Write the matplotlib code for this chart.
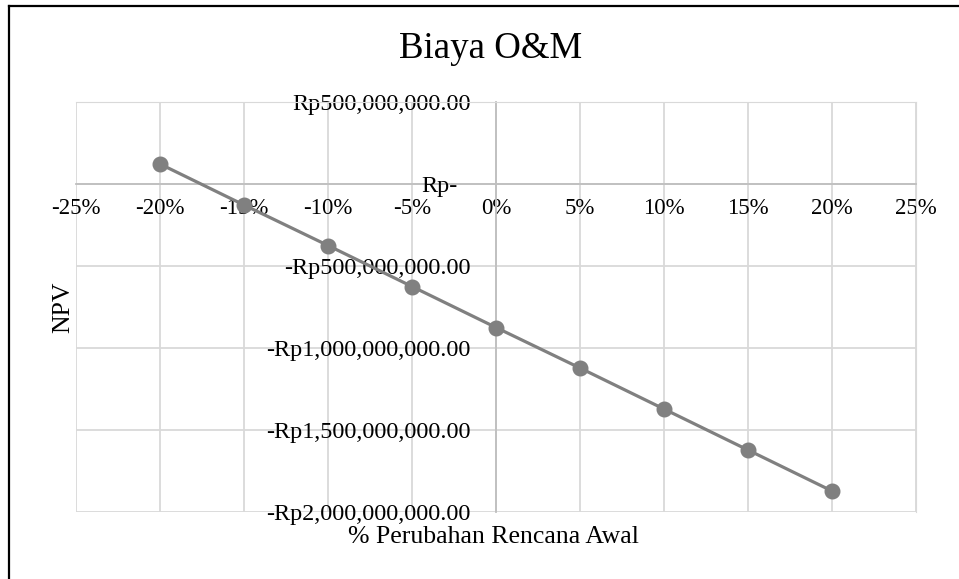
import numpy as np
import matplotlib
matplotlib.use('Agg')
import matplotlib.pyplot as plt
from matplotlib.lines import Line2D

# data
perubahan = [-0.20, -0.15, -0.10, -0.05, 0.00, 0.05, 0.10, 0.15, 0.20]
npv = [122e6, -128e6, -375e6, -625e6, -875e6, -1122e6, -1372e6, -1622e6, -1872e6]
x_ticks = [-0.25, -0.20, -0.15, -0.10, -0.05, 0.0, 0.05, 0.10, 0.15, 0.20, 0.25]
x_labels = ['-25%', '-20%', '-15%', '-10%', '-5%', '0%', '5%', '10%', '15%', '20%', '25%']
y_ticks = [-2e9, -1.5e9, -1e9, -5e8, 0, 5e8]
y_labels = ['-Rp2,000,000,000.00', '-Rp1,500,000,000.00', '-Rp1,000,000,000.00',
            '-Rp500,000,000.00', 'Rp-', 'Rp500,000,000.00']

plt.rcParams['font.family'] = ['Liberation Serif', 'DejaVu Serif']

fig = plt.figure(figsize=(9.59, 5.79), dpi=100)
ax = fig.add_axes([76/959, 1-512/579, 840/959, 410/579])

ax.plot(perubahan, npv, color='#808080', lw=2.3, marker='o', ms=10.5,
        markerfacecolor='#808080', markeredgecolor='#808080', zorder=3)

ax.set_xlim(-0.25, 0.25)
ax.set_ylim(-2e9, 5e8)
ax.set_xticks(x_ticks, x_labels)
# the zero label sits a bit further from the axis (accounting format), drawn below
ax.set_yticks(y_ticks, ['' if l == 'Rp-' else l for l in y_labels])
ax.grid(True, color='#d9d9d9', lw=1.3, zorder=0)
ax.set_axisbelow(True)

# axes cross at zero like excel
ax.spines['bottom'].set_position(('data', 0))
ax.spines['left'].set_position(('data', 0))
ax.spines['bottom'].set_color('#bfbfbf')
ax.spines['left'].set_color('#bfbfbf')
ax.spines['bottom'].set_linewidth(1.3)
ax.spines['left'].set_linewidth(1.3)
ax.spines['top'].set_color('#d9d9d9')
ax.spines['right'].set_color('#d9d9d9')

ax.tick_params(axis='x', length=0, pad=10, labelsize=16.5)
ax.tick_params(axis='y', length=0, pad=18.5, labelsize=17.4)
for v, l in zip(y_ticks, y_labels):
    if l == 'Rp-':
        ax.annotate(l, xy=(0, v), xytext=(-27.5, -1.5), textcoords='offset points',
                    ha='right', va='center', fontsize=17.4)

fig.text(490.5/959, 1-58/579, 'Biaya O&M', ha='center', va='baseline', fontsize=26.6)
fig.text(493/959, 1-543/579, '% Perubahan Rencana Awal', ha='center', va='baseline', fontsize=18.5)
fig.text(63/959, 1-307/579, 'NPV', ha='center', va='center', rotation=90, fontsize=18.5)

# outer chart frame (cut at right and bottom)
fig.add_artist(Line2D([8.5/959, 8.5/959], [0, 1-5.5/579], transform=fig.transFigure, color='black', lw=1.6))
fig.add_artist(Line2D([8.5/959, 1], [1-5.5/579, 1-5.5/579], transform=fig.transFigure, color='black', lw=1.6))

plt.savefig('out.png', dpi=100)
